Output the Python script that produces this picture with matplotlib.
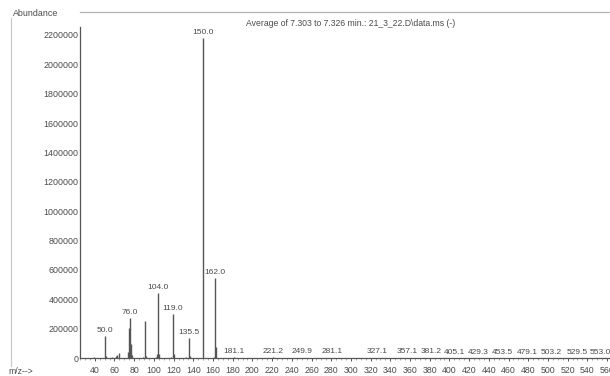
import matplotlib
matplotlib.use('Agg')
import matplotlib.pyplot as plt
from matplotlib.lines import Line2D
from matplotlib.ticker import MultipleLocator

# ---- data ----
mz = [39.0, 50.0, 51.0, 57.0, 62.0, 63.0, 65.0, 74.0, 75.0, 76.0, 77.0, 78.0,
      89.0, 91.0, 92.0, 102.0, 103.0, 104.0, 105.0, 117.0, 119.0, 120.0,
      133.0, 135.5, 137.0, 150.0, 161.0, 162.0, 163.0, 181.1, 221.2, 249.9,
      281.1, 327.1, 357.1, 381.2, 405.1, 429.3, 453.5, 479.1, 503.2, 529.5, 553.0]
abundance = [6000, 150000, 12000, 8000, 12000, 18000, 32000, 40000, 205000, 270000,
             95000, 20000, 10000, 255000, 15000, 8000, 30000, 440000, 30000, 8000,
             300000, 25000, 8000, 135000, 12000, 2180000, 10000, 545000, 75000,
             8000, 4000, 3000, 3000, 3000, 3000, 3000, 2000, 2000, 2000, 2000,
             2000, 2000, 2000]
labelled_mz = [50.0, 76.0, 104.0, 119.0, 135.5, 150.0, 162.0, 181.1, 221.2, 249.9,
               281.1, 327.1, 357.1, 381.2, 405.1, 429.3, 453.5, 479.1, 503.2,
               529.5, 553.0]
y_ticks = [0, 200000, 400000, 600000, 800000, 1000000, 1200000, 1400000,
           1600000, 1800000, 2000000, 2200000]
x_ticks = list(range(40, 561, 20))
title_text = "Average of 7.303 to 7.326 min.: 21_3_22.D\\data.ms (-)"

W, H = 610, 376
plt.rcParams['font.family'] = ['Liberation Sans', 'DejaVu Sans']
txt = '#4a4a4a'
line_c = '#555555'

fig = plt.figure(figsize=(W / 100, H / 100), dpi=100)
fig.patch.set_facecolor('white')

def fx(px):
    return px / W

def fy(py):
    return 1 - py / H

ax = fig.add_axes([fx(80), fy(358), fx(610) - fx(80), fy(27) - fy(358)])
ax.vlines(mz, 0, abundance, color=line_c, linewidth=1.0)

ax.set_xlim(25, 563)
ax.set_ylim(0, 2254000)

peak_height = dict(zip(mz, abundance))
for m in labelled_mz:
    ax.annotate(f"{m:.1f}", xy=(m, peak_height[m]), xytext=(0, 1.5),
                textcoords='offset points', ha='center', va='bottom',
                fontsize=6.0, color=txt)

ax.set_yticks(y_ticks)
ax.set_yticklabels([str(v) for v in y_ticks])
ax.set_xticks(x_ticks)
ax.set_xticklabels([str(v) for v in x_ticks])
ax.xaxis.set_minor_locator(MultipleLocator(5))

ax.tick_params(axis='y', length=0, pad=1.0, labelsize=6.4, labelcolor=txt)
ax.tick_params(axis='x', which='major', length=2.5, width=0.7, color=line_c,
               pad=3.5, labelsize=6.3, labelcolor=txt)
ax.tick_params(axis='x', which='minor', length=1.3, width=0.5, color='#888888')

for s in ['top', 'right']:
    ax.spines[s].set_visible(False)
for s in ['left', 'bottom']:
    ax.spines[s].set_color(line_c)
    ax.spines[s].set_linewidth(0.9)

# outer faint frame of the scanned printout
fig.add_artist(Line2D([fx(11), fx(11)], [fy(18), fy(366)], color='#c8c8c8', lw=0.8))
fig.add_artist(Line2D([fx(80), fx(610)], [fy(12), fy(12)], color='#b0b0b0', lw=0.9))

fig.text(fx(13), fy(14), "Abundance", fontsize=6.4, color=txt, ha='left', va='center')
fig.text(fx(246), fy(23), title_text, fontsize=6.2, color=txt, ha='left', va='center')
fig.text(fx(8), fy(371), "m/z-->", fontsize=6.2, color=txt, ha='left', va='center')

fig.savefig('out.png', dpi=100, facecolor='white')
